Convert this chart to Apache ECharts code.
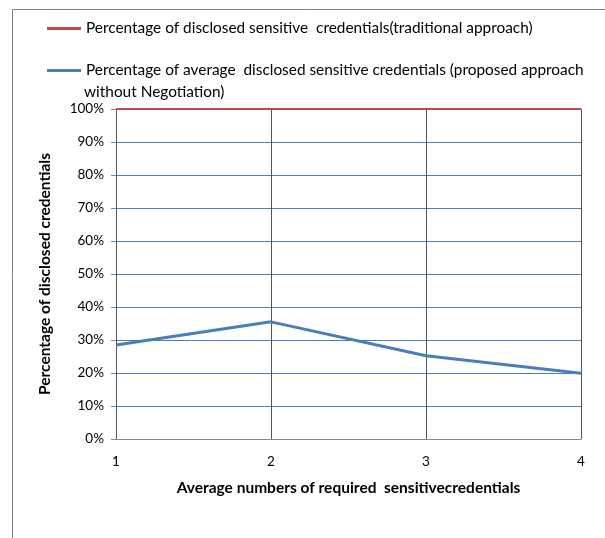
<!DOCTYPE html>
<html><head><meta charset="utf-8">
<script src="https://cdn.jsdelivr.net/npm/echarts@6/dist/echarts.min.js"></script>
<style>html,body{margin:0;padding:0;background:#fff}#c{width:605px;height:538px}</style>
</head><body><div id="c"></div>
<script>
var xValues = [1, 2, 3, 4];
var traditional = [1.00, 1.00, 1.00, 1.00];
var proposed = [0.285, 0.355, 0.252, 0.199];
var seriesNames = [
  'Percentage of disclosed sensitive  credentials(traditional approach)',
  'Percentage of average  disclosed sensitive credentials (proposed approach'
];
var legendContinuation = 'without Negotiation)';

var FONT = 'Lato';
var chart = echarts.init(document.getElementById('c'), null, {renderer: 'canvas'});
function pairs(v){ return xValues.map(function(x,i){ return [x, v[i]]; }); }
chart.setOption({
  animation: false,
  graphic: [{
    type: 'rect', shape: {x: 12.5, y: 9.5, width: 620, height: 560},
    style: {fill: null, stroke: '#7f7f7f', lineWidth: 1}, silent: true
  }, {
    type: 'text', left: 84, top: 85,
    style: {text: legendContinuation, font: '15.4px Lato', fill: '#000'}
  }],
  legend: [{
    data: [seriesNames[0]], left: 47, top: 21, itemWidth: 34, itemHeight: 3, itemGap: 3,
    icon: 'rect', padding: 0,
    textStyle: {fontFamily: FONT, fontSize: 15.4, color: '#000'}
  }, {
    data: [seriesNames[1]], left: 47, top: 63, itemWidth: 34, itemHeight: 3, itemGap: 3,
    icon: 'rect', padding: 0,
    textStyle: {fontFamily: FONT, fontSize: 15.4, color: '#000'}
  }],
  grid: {left: 116, right: 24, top: 109, bottom: 99},
  xAxis: {
    type: 'value', min: 1, max: 4, interval: 1,
    name: 'Average numbers of required  sensitivecredentials',
    nameLocation: 'middle', nameGap: 41,
    nameTextStyle: {fontFamily: FONT, fontSize: 15.5, fontWeight: 'bold', color: '#000'},
    axisLine: {show: true, lineStyle: {color: '#868686', width: 1}},
    axisTick: {show: false},
    axisLabel: {fontFamily: FONT, fontSize: 13.5, color: '#000', margin: 16},
    splitLine: {show: true, lineStyle: {color: '#555', width: 1}}
  },
  yAxis: {
    type: 'value', min: 0, max: 1, interval: 0.1,
    name: 'Percentage of disclosed credentials',
    nameLocation: 'middle', nameGap: 63, nameRotate: 90,
    nameTextStyle: {fontFamily: FONT, fontSize: 15.5, fontWeight: 'bold', color: '#000'},
    axisLine: {show: true, lineStyle: {color: '#555', width: 1}},
    axisTick: {show: true, length: 5, inside: false, lineStyle: {color: '#868686'}},
    axisLabel: {fontFamily: FONT, fontSize: 13.5, color: '#000', margin: 12,
      formatter: function(v){ return Math.round(v*100) + '%'; }},
    splitLine: {show: true, lineStyle: {color: '#4a7ebb', width: 1}}
  },
  series: [{
    name: seriesNames[0], type: 'line', data: pairs(traditional),
    symbol: 'none', lineStyle: {color: '#be4b48', width: 2}, itemStyle: {color: '#be4b48'}, z: 3
  }, {
    name: seriesNames[1], type: 'line', data: pairs(proposed),
    symbol: 'none', lineStyle: {color: '#4a7ebb', width: 3}, itemStyle: {color: '#4a7ebb'}, z: 4
  }]
});
</script></body></html>
